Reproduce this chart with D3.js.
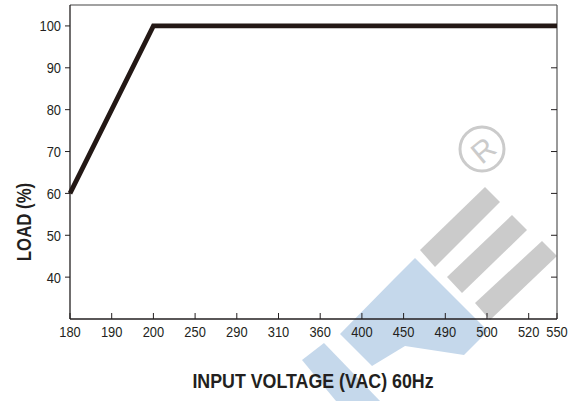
<!DOCTYPE html>
<html>
<head>
<meta charset="utf-8">
<script src="https://cdn.jsdelivr.net/npm/d3@7/dist/d3.min.js"></script>
<style>
body{margin:0;background:#fff;}
text{font-family:"Liberation Sans",Arial,sans-serif;fill:#231f20;}
</style>
</head>
<body>
<svg width="578" height="401"></svg>
<script>
// categories on the x axis (input voltage, VAC)
var voltages = ["180","190","200","250","290","310","360","400","450","490","500","520","550"];
var loadTicks = [40,50,60,70,80,90,100];
// derating curve
var curveVoltage = ["180","200","550"];
var curveLoad = [60,100,100];

var svg = d3.select("svg");
var pLeft = 70, pRight = 557, pTop = 5, pBottom = 319;
var narrow = 0.86;

// last step (520 -> 550) is drawn shorter than the others
var xIdx = d3.scaleLinear().domain([0, 11, 12]).range([pLeft, pLeft + 11*41.7, pRight]);
function x(v){ return xIdx(voltages.indexOf(v)); }
var y = d3.scaleLinear().domain([30,105]).range([pBottom, pTop]);

// watermark
var wm = svg.append("g");
var blue = "#c5d8eb", grey = "#cbcbcb";
wm.append("path").attr("fill", blue)
  .attr("d","M415,258L488,331L464,355L405,346L372,366L340,334L394,279Z");
wm.append("path").attr("fill", blue)
  .attr("d","M302,360L324,343L380,401L336,401Z");
[[420,250,435,267,500,202,485,187],[447,277,462,293,527,230,512,215],[475,303,490,320,557,256,542,241]]
  .forEach(function(b){
    wm.append("path").attr("fill", grey)
      .attr("d","M"+b[0]+","+b[1]+"L"+b[2]+","+b[3]+"L"+b[4]+","+b[5]+"L"+b[6]+","+b[7]+"Z");
  });
wm.append("circle").attr("cx",482).attr("cy",149).attr("r",22)
  .attr("fill","none").attr("stroke",grey).attr("stroke-width",3);
wm.append("text").attr("transform","translate(483,150) rotate(-40)")
  .attr("text-anchor","middle").attr("dy","0.36em")
  .style("font-size","30px").style("fill",grey).text("R");

// frame top/right
svg.append("line").attr("x1",pLeft).attr("x2",pRight).attr("y1",pTop).attr("y2",pTop)
  .attr("stroke","#444").attr("stroke-width",1.2);
svg.append("line").attr("x1",pRight).attr("x2",pRight).attr("y1",pTop).attr("y2",pBottom)
  .attr("stroke","#555").attr("stroke-width",1.2);

// x axis, ticks pointing into the plot
var xAxis = svg.append("g").attr("transform","translate(0,"+pBottom+")");
xAxis.append("line").attr("x1",pLeft).attr("x2",pRight).attr("stroke","#231f20").attr("stroke-width",1.3);
xAxis.selectAll(".xt").data(voltages).enter().append("line")
  .attr("x1",x).attr("x2",x).attr("y1",0).attr("y2",-6)
  .attr("stroke","#231f20").attr("stroke-width",1);
xAxis.selectAll(".xl").data(voltages).enter().append("text")
  .attr("transform",function(d){return "translate("+x(d)+",18) scale("+narrow+",1)";})
  .attr("text-anchor","middle")
  .style("font-size","15px").text(function(d){return d;});

// y axis left, ticks outside
var yAxis = svg.append("g").attr("transform","translate("+pLeft+",0)");
yAxis.append("line").attr("y1",pTop).attr("y2",pBottom).attr("stroke","#231f20").attr("stroke-width",1.3);
yAxis.selectAll(".yt").data(loadTicks).enter().append("line")
  .attr("x1",-5).attr("x2",0).attr("y1",y).attr("y2",y)
  .attr("stroke","#231f20");
yAxis.selectAll(".yl").data(loadTicks).enter().append("text")
  .attr("transform",function(d){return "translate(-9,"+y(d)+") scale("+narrow+",1)";})
  .attr("dy","0.36em").attr("text-anchor","end")
  .style("font-size","15px").text(function(d){return d;});

// right side ticks pointing in
svg.append("g").selectAll("line").data(loadTicks).enter().append("line")
  .attr("x1",pRight-6).attr("x2",pRight).attr("y1",y).attr("y2",y)
  .attr("stroke","#231f20");

// curve
var line = d3.line()
  .x(function(d){return x(d[0]);})
  .y(function(d){return y(d[1]);});
svg.append("path")
  .datum(d3.zip(curveVoltage, curveLoad))
  .attr("d", line)
  .attr("fill","none").attr("stroke","#231815").attr("stroke-width",4.8)
  .attr("stroke-linejoin","miter");

// titles
svg.append("text").attr("transform","translate(313,388) scale(0.89,1)")
  .attr("text-anchor","middle")
  .style("font-size","20px").style("font-weight","bold")
  .text("INPUT VOLTAGE (VAC) 60Hz");
svg.append("text").attr("transform","translate(31,222) rotate(-90) scale(0.84,1)")
  .attr("text-anchor","middle")
  .style("font-size","20px").style("font-weight","bold")
  .text("LOAD (%)");
</script>
</body>
</html>
